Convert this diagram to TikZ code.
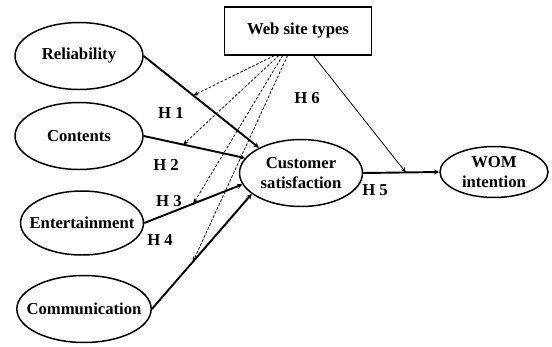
\documentclass[tikz,border=0pt]{standalone}
\usepackage{fontspec}
\setmainfont{Liberation Serif}
\usetikzlibrary{shapes.geometric,arrows.meta}
\begin{document}
\begin{tikzpicture}[x=0.02cm, y=-0.02cm,
  every node/.style = {align=center, font=\bfseries\fontsize{9.5}{11}\selectfont},
  factor/.style = {ellipse, draw, line width=0.85pt, inner xsep=-0.2cm, inner ysep=0pt,
    minimum width=2.56cm, minimum height=1.34cm},
  typebox/.style = {rectangle, draw, line width=0.7pt,
    minimum width=2.94cm, minimum height=0.96cm},
  path/.style = {line width=1.1pt, -{Stealth[length=3pt,width=3pt]}},
  moder/.style = {line width=0.45pt, dash pattern=on 1.5pt off 1pt,
    -{Stealth[length=3pt,width=2.5pt]}},
  ]
  \useasboundingbox (0,0) rectangle (552,346);
  % constructs
  \node[typebox] (web) at (298,31) {Web site types};
  \node[factor] (rel) at (79,56) {Reliability};
  \node[factor] (con) at (79,136) {Contents};
  \node[factor, minimum width=2.46cm, minimum height=1.28cm] (ent) at (82,223) {Entertainment};
  \node[factor] (com) at (84,309) {Communication};
  \node[factor, minimum width=2.46cm] (cs) at (301,173) {Customer\\satisfaction};
  \node[factor, minimum width=2.16cm, minimum height=1.02cm] (wom) at (494,172) {WOM\\intention};
  % paths
  \draw[path] (rel.east) -- coordinate[pos=0.43] (m1) (cs.149);
  \draw[path] (con.east) -- coordinate[pos=0.39] (m2) (cs.165);
  \draw[path] (ent.east) -- coordinate[pos=0.5] (m3) (cs.191);
  \draw[path] (com.east) -- coordinate[pos=0.41] (m4) (cs.203);
  \draw[path] (cs.east) -- coordinate[pos=0.56] (m5) (wom.west);
  % moderation
  \draw[moder] (web.226) -- (m1);
  \draw[moder] (web.232) -- (m2);
  \draw[moder] (web.238) -- (m3);
  \draw[moder] (web.247) -- (m4);
  \draw[moder, dash pattern=] (web.302) -- (m5);
  % hypotheses
  \node (h1) at (171,113) {H 1};
  \node (h2) at (166,165) {H 2};
  \node (h3) at (169,201) {H 3};
  \node (h4) at (160,240) {H 4};
  \node (h5) at (375,190) {H 5};
  \node (h6) at (307,98) {H 6};
\end{tikzpicture}
\end{document}
